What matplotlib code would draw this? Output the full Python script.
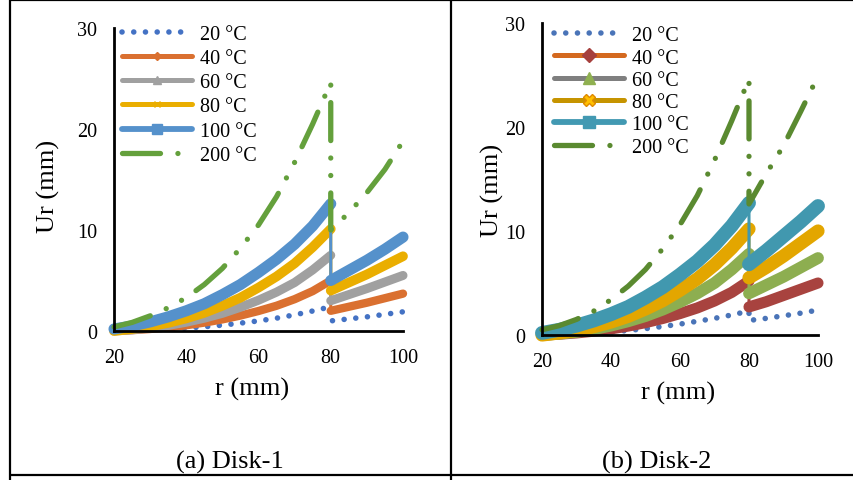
import matplotlib
matplotlib.use("Agg")
import matplotlib.pyplot as plt
from matplotlib.lines import Line2D

plt.rcParams['font.family'] = ['Liberation Serif', 'DejaVu Serif']

# ---------------- data ----------------
r_in = [20, 25, 30, 35, 40, 45, 50, 55, 60, 65, 70, 75, 80]
r_out = [80, 85, 90, 95, 100]
labels = ['20 °C', '40 °C', '60 °C', '80 °C', '100 °C', '200 °C']
x_ticks = [20, 40, 60, 80, 100]
y_ticks = [0, 10, 20, 30]

# Disk-1
a20_in = [0.0, 0.04, 0.1, 0.18, 0.29, 0.42, 0.58, 0.78, 1.0, 1.27, 1.6, 1.98, 2.4]
a40_in = [0.0, 0.08, 0.2, 0.36, 0.57, 0.83, 1.15, 1.53, 1.98, 2.5, 3.15, 3.95, 5.0]
a60_in = [0.0, 0.12, 0.3, 0.55, 0.87, 1.27, 1.75, 2.35, 3.05, 3.85, 4.8, 6.05, 7.5]
a80_in = [0.0, 0.2, 0.45, 0.8, 1.25, 1.8, 2.5, 3.3, 4.3, 5.4, 6.7, 8.3, 10.1]
a100_in = [0.2, 0.5, 0.9, 1.4, 2.0, 2.7, 3.6, 4.6, 5.8, 7.1, 8.6, 10.4, 12.6]
a200_in = [0.4, 0.85, 1.5, 2.3, 3.3, 4.6, 6.2, 8.2, 10.5, 13.3, 16.7, 20.5, 24.6]
a20_out = [1.0, 1.2, 1.4, 1.65, 1.9]
a40_out = [2.0, 2.4, 2.8, 3.25, 3.7]
a60_out = [3.0, 3.6, 4.2, 4.85, 5.5]
a80_out = [4.0, 4.8, 5.6, 6.5, 7.4]
a100_out = [5.0, 6.0, 7.0, 8.1, 9.3]
a200_out = [10.0, 11.7, 13.7, 16.0, 18.8]

# Disk-2
b20_in = [0.0, 0.04, 0.1, 0.19, 0.3, 0.44, 0.61, 0.82, 1.05, 1.32, 1.6, 1.93, 2.3]
b40_in = [0.0, 0.08, 0.2, 0.37, 0.59, 0.86, 1.19, 1.59, 2.06, 2.6, 3.27, 4.1, 5.2]
b60_in = [0.0, 0.12, 0.3, 0.56, 0.9, 1.32, 1.82, 2.44, 3.17, 4.0, 5.0, 6.3, 7.8]
b80_in = [0.0, 0.2, 0.45, 0.8, 1.25, 1.8, 2.5, 3.3, 4.3, 5.4, 6.75, 8.35, 10.2]
b100_in = [0.2, 0.5, 0.9, 1.4, 2.0, 2.7, 3.6, 4.6, 5.8, 7.1, 8.65, 10.5, 12.7]
b200_in = [0.5, 0.9, 1.5, 2.3, 3.4, 4.7, 6.3, 8.3, 10.6, 13.4, 16.8, 20.6, 24.6]
b20_out = [1.4, 1.6, 1.85, 2.1, 2.4]
b40_out = [2.7, 3.2, 3.8, 4.4, 5.0]
b60_out = [4.0, 4.8, 5.6, 6.5, 7.4]
b80_out = [5.5, 6.5, 7.6, 8.8, 10.0]
b100_out = [6.8, 8.1, 9.5, 10.9, 12.4]
b200_out = [12.6, 15.5, 18.2, 21.5, 24.9]

# ---------------- styles ----------------
dot_ls = (0, (0.01, 2.1))
dashdot_ls = (0, (7.2, 3.3, 0.01, 3.3, 0.01, 3.3))

W, H = 854, 481
fig = plt.figure(figsize=(W / 100, H / 100), dpi=100)

# table frame
frame_kw = dict(color='black', lw=1.6, solid_capstyle='butt')
fig.add_artist(Line2D([10 / W, 10 / W], [0, 1], **frame_kw))
fig.add_artist(Line2D([451 / W, 451 / W], [0, 1], **frame_kw))
fig.add_artist(Line2D([10 / W, 1], [1 - 1 / H, 1 - 1 / H], **frame_kw))
fig.add_artist(Line2D([10 / W, 1], [1 - 475.5 / H, 1 - 475.5 / H], **frame_kw))


def panel(rect, series, solid_styles, dot_color, dd_color, handles, leg_anchor, leg_sp,
          ylab_xy, xlab_xy):
    ax = fig.add_axes(rect)
    s20_in, s20_out = series[0]
    ax.plot(r_in + r_out, s20_in + s20_out, color=dot_color, lw=4.0, ls=dot_ls,
            dash_capstyle='round', clip_on=False)
    for (s_in, s_out), (col, lw) in zip(series[1:5], solid_styles):
        kw = dict(color=col, solid_capstyle='round', solid_joinstyle='round', clip_on=False)
        ax.plot(r_in + r_out, s_in + s_out, lw=2.2, **kw)
        ax.plot(r_in, s_in, lw=lw, **kw)
        ax.plot(r_out, s_out, lw=lw, **kw)
    s200_in, s200_out = series[5]
    ax.plot(r_in + r_out, s200_in + s200_out, color=dd_color, lw=3.8, ls=dashdot_ls,
            dash_capstyle='round', clip_on=False)

    ax.set_xlim(20, 100)
    ax.set_ylim(0, 30)
    ax.set_xticks(x_ticks)
    ax.set_yticks(y_ticks)
    ax.tick_params(length=0, labelsize=14.5, pad=12)
    for s in ['top', 'right']:
        ax.spines[s].set_visible(False)
    for s in ['left', 'bottom']:
        ax.spines[s].set_linewidth(2.0)
    ax.set_ylabel('Ur (mm)', fontsize=19)
    ax.set_xlabel('r (mm)', fontsize=19)
    ax.yaxis.label.set_va('center')
    ax.xaxis.label.set_va('center')
    ax.yaxis.set_label_coords(*ylab_xy)
    ax.xaxis.set_label_coords(*xlab_xy)
    ax.legend(handles=handles, labels=labels, loc='upper left', bbox_to_anchor=leg_anchor,
              frameon=False, fontsize=14.5, handlelength=3.5, handletextpad=0.35,
              labelspacing=leg_sp, borderpad=0, borderaxespad=0)
    return ax


def leg_line(col, marker=None, mfc=None, mec=None, ms=6, lw=3.6, ls='-'):
    return Line2D([], [], color=col, lw=lw, ls=ls, marker=marker, mfc=mfc or col,
                  mec=mec or col, ms=ms, solid_capstyle='round', dash_capstyle='round')


# Panel (a)
ca = ['#4472C4', '#DA7030', '#A0A0A0', '#EAAE00', '#5591CB', '#64A03C']
handles_a = [
    leg_line(ca[0], ls=dot_ls, lw=4.0),
    leg_line(ca[1], marker='D', ms=4),
    leg_line(ca[2], marker='^', ms=6),
    leg_line(ca[3], marker='x', ms=5, mec=ca[3]),
    leg_line(ca[4], marker='s', ms=7, lw=4.2),
    leg_line(ca[5], ls=dashdot_ls, lw=3.8),
]
series_a = [(a20_in, a20_out), (a40_in, a40_out), (a60_in, a60_out),
            (a80_in, a80_out), (a100_in, a100_out), (a200_in, a200_out)]
panel([114 / W, 1 - 332 / H, 289 / W, 303 / H], series_a,
      [(ca[1], 6.0), (ca[2], 6.5), (ca[3], 7.0), (ca[4], 8.0)], ca[0], ca[5],
      handles_a, (8 / 289, 1.01), 0.25, (-0.228, 0.479), (0.478, -0.191))

# Panel (b)
cb_line = ['#4A74B8', '#D4691F', '#7F7F7F', '#C69400', '#4299B2', '#5A8A30']
cb_band = ['#4A74B8', '#A8433F', '#8DAE50', '#E3A600', '#4198AF', '#5A8A30']
handles_b = [
    leg_line(cb_line[0], ls=dot_ls, lw=4.0),
    leg_line(cb_line[1], marker='D', ms=7, mfc='#A6403D', mec='#A6403D'),
    leg_line(cb_line[2], marker='^', ms=9, mfc='#8FB050', mec='#8FB050'),
    leg_line(cb_line[3], marker='X', ms=9, mfc='#FFC000', mec='#E08A00'),
    leg_line(cb_line[4], marker='s', ms=9, lw=4.2),
    leg_line(cb_line[5], ls=dashdot_ls, lw=3.8),
]
series_b = [(b20_in, b20_out), (b40_in, b40_out), (b60_in, b60_out),
            (b80_in, b80_out), (b100_in, b100_out), (b200_in, b200_out)]
panel([542 / W, 1 - 336 / H, 276 / W, 312 / H], series_b,
      [(cb_band[1], 8.0), (cb_band[2], 8.5), (cb_band[3], 9.5), (cb_band[4], 10.0)],
      cb_band[0], cb_band[5], handles_b, (12 / 276, 0.99), 0.16,
      (-0.178, 0.468), (0.493, -0.183))

fig.text(230 / W, 1 - 462 / H, '(a) Disk-1', ha='center', va='center', fontsize=19)
fig.text(657 / W, 1 - 462 / H, '(b) Disk-2', ha='center', va='center', fontsize=19)

fig.savefig('out.png', dpi=100)
